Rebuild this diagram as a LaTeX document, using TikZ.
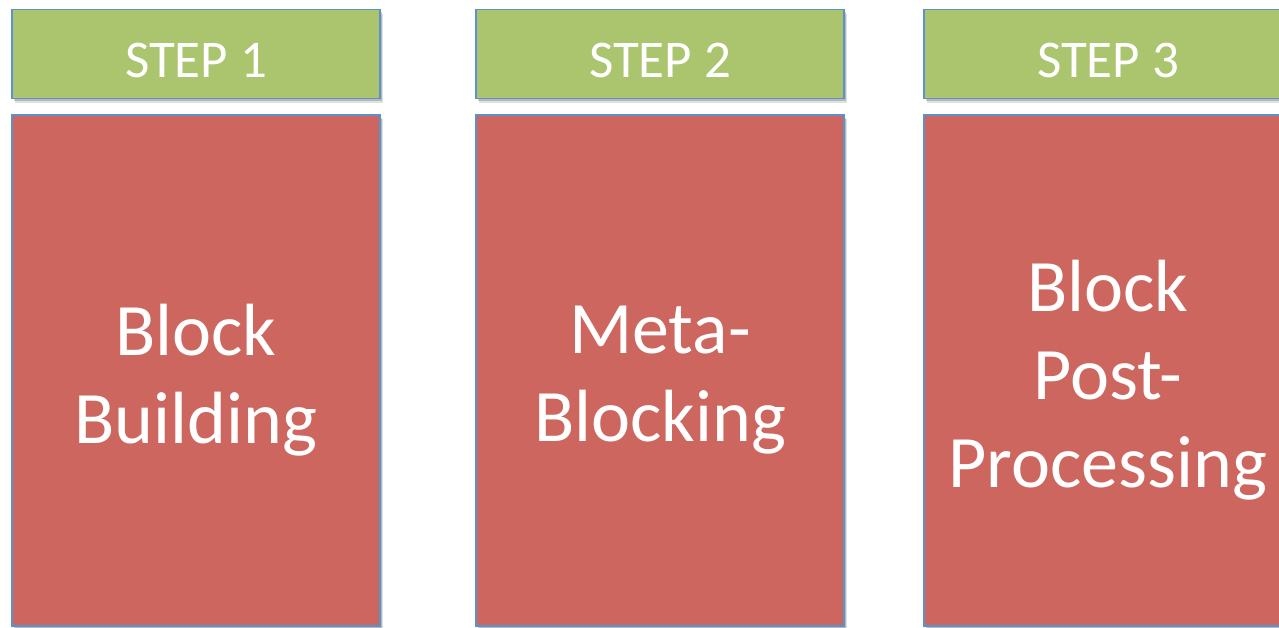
\documentclass[tikz,border=0pt]{standalone}
\usepackage{fontspec}
\setmainfont{Carlito}
\usetikzlibrary{shadows}
\definecolor{stepgreen}{RGB}{171,196,110}
\definecolor{phasered}{RGB}{204,102,94}
\definecolor{edgeblue}{RGB}{91,145,205}
\tikzset{
  soft shadow/.style={
    drop shadow={shadow xshift=3pt,shadow yshift=-4pt,opacity=0.12,fill=black},
    drop shadow={shadow xshift=2pt,shadow yshift=-2.5pt,opacity=0.18,fill=black}},
  stephead/.style={draw=edgeblue,line width=1.8pt,fill=stepgreen,soft shadow,
    minimum width=368pt,minimum height=89pt,inner sep=0pt},
  phasebox/.style={draw=edgeblue,line width=1.8pt,fill=phasered,soft shadow,
    minimum width=368pt,minimum height=511pt,inner sep=0pt},
  steptext/.style={text=white,inner sep=0pt,font=\fontsize{53}{60}\selectfont},
  phasetext/.style={text=white,inner sep=0pt,align=center,
    font=\fontsize{74}{88}\selectfont}
}
\begin{document}
\begin{tikzpicture}[x=1pt,y=-1pt]
\useasboundingbox (0,0) rectangle (1279,627);
\begin{scope}
\clip (0,0) rectangle (1279,627);
% step headers
\node[stephead] (s1) at (196,54) {};
\node[stephead] (s2) at (660,54) {};
\node[stephead] (s3) at (1108,54) {};
\node[steptext] (t1) at ([yshift=-6pt]s1.center) {STEP 1};
\node[steptext] (t2) at ([yshift=-6pt]s2.center) {STEP 2};
\node[steptext] (t3) at ([yshift=-6pt]s3.center) {STEP 3};
% phase boxes
\node[phasebox] (p1) at (196,370.5) {};
\node[phasebox] (p2) at (660,370.5) {};
\node[phasebox] (p3) at (1108,370.5) {};
\node[phasetext] (q1) at ([yshift=-10pt]p1.center) {Block\\Building};
\node[phasetext] (q2) at ([yshift=-10pt]p2.center) {Meta-\\Blocking};
\node[phasetext] (q3) at ([yshift=-10pt]p3.center) {Block\\Post-\\Processing};
\end{scope}
\end{tikzpicture}
\end{document}
